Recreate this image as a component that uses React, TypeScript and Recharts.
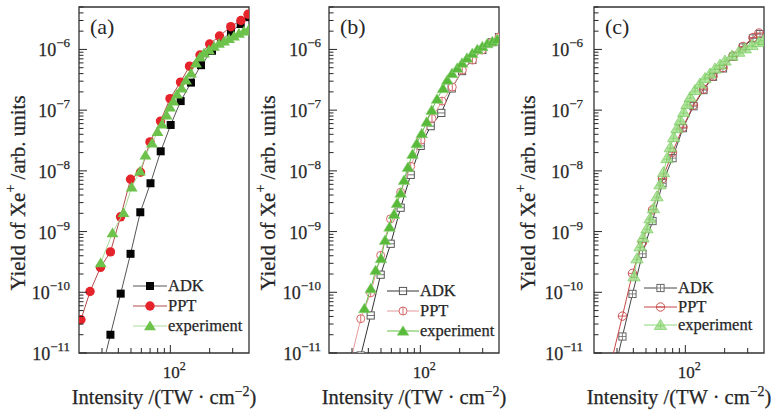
import React from 'react'
import { ScatterChart, Scatter, XAxis, YAxis, ReferenceArea, Legend, Label } from 'recharts'

const FONT = '"Liberation Serif", "Times New Roman", serif'
const INK = '#262626'
const PAD = 6

// axes
const X_DOMAIN = [20, 400]
const Y_DOMAIN = [1e-11, 5e-6]
const X_TICKS = [30, 40, 50, 60, 70, 80, 90, 100, 200, 300]
const Y_DECADES = [1e-11, 1e-10, 1e-9, 1e-8, 1e-7, 1e-6]
const Y_MINOR = [2, 3, 4, 5, 6, 7, 8, 9]
const Y_TICKS = Y_DECADES.flatMap((d) => [d, ...Y_MINOR.map((m) => m * d)]).filter((v) => v <= 5e-6)

// panel (a): intensity (TW/cm2) vs Xe+ yield
const adkA_x = [29.2, 34.8, 41.7, 49.6, 58.9, 70.5, 84.4, 100.6, 120, 143.9, 171.7, 208.4, 244, 291, 345.5, 398]
const adkA_y = [4.3e-12, 2.0e-11, 9.5e-11, 4.3e-10, 2.08e-9, 6.25e-9, 2.1e-8, 5.7e-8, 1.41e-7, 2.84e-7, 5.5e-7, 9.5e-7, 1.37e-6, 1.94e-6, 2.62e-6, 3.4e-6]
const pptA_x = [20.7, 24.3, 29.2, 34.8, 41.6, 49.6, 59.1, 69.9, 84.1, 99.4, 119.6, 140.2, 168.7, 200, 237.8, 290, 347, 393]
const pptA_y = [3.53e-11, 1.03e-10, 2.57e-10, 4.63e-10, 1.75e-9, 7.28e-9, 9.5e-9, 3.0e-8, 6.6e-8, 1.55e-7, 2.9e-7, 5.3e-7, 8.1e-7, 1.23e-6, 1.66e-6, 2.37e-6, 3.0e-6, 3.8e-6]
const expA_x = [29.3, 36.1, 43.8, 50.6, 58.6, 64.5, 72.4, 79.8, 86.3, 93.5, 99.4, 105.4, 112.5, 122.2, 131.8, 143.9, 157.2, 168.7, 181, 197.6, 215.9, 235.7, 257.5, 281, 307, 335, 366, 400]
const expA_y = [3.05e-10, 9.5e-10, 2.04e-9, 5.4e-9, 9.9e-9, 1.81e-8, 2.86e-8, 4.4e-8, 5.9e-8, 8.3e-8, 1.12e-7, 1.41e-7, 1.84e-7, 2.31e-7, 3.13e-7, 4.08e-7, 5.96e-7, 7.5e-7, 8.7e-7, 9.8e-7, 1.12e-6, 1.25e-6, 1.37e-6, 1.51e-6, 1.66e-6, 1.83e-6, 2.0e-6, 2.17e-6]

// panel (b)
const adkB_x = [35.0, 41.7, 49.7, 59.3, 70.7, 84.4, 100.6, 120, 144.7, 173.8, 208.4, 249.9, 298, 355.5, 400]
const adkB_y = [9.1e-12, 4.15e-11, 1.95e-10, 6.3e-10, 2.47e-9, 8.6e-9, 2.58e-8, 5.45e-8, 9.0e-8, 2.28e-7, 4.4e-7, 6.7e-7, 9.8e-7, 1.32e-6, 1.6e-6]
const pptB_x = [29.3, 35.0, 41.7, 49.7, 59.1, 70.7, 84.4, 101.2, 122.8, 146.5, 175.6, 209.5, 250.7, 296.5, 353.6, 400]
const pptB_y = [7.5e-12, 3.67e-11, 9.8e-11, 4.06e-10, 1.62e-9, 4.44e-9, 1.19e-8, 3.2e-8, 7.3e-8, 1.41e-7, 2.4e-7, 4.57e-7, 6.7e-7, 9.8e-7, 1.32e-6, 1.6e-6]
const expB_x = [37.3, 41.7, 45.5, 50.0, 53.7, 58.1, 62.9, 66.3, 70.7, 75.0, 80.4, 87.1, 93.8, 102.4, 111.9, 122.2, 134.2, 149.1, 160.8, 174.7, 191.8, 208.4, 227.6, 249.9, 272.9, 298, 325.5, 355.5, 388]
const expB_y = [5.4e-11, 1.15e-10, 2.3e-10, 3.6e-10, 7.2e-10, 1.19e-9, 1.93e-9, 2.92e-9, 4.3e-9, 7.0e-9, 1.15e-8, 1.88e-8, 2.82e-8, 4.13e-8, 6.4e-8, 1.0e-7, 1.52e-7, 2.28e-7, 3.13e-7, 4.03e-7, 4.93e-7, 5.96e-7, 7.2e-7, 8.6e-7, 1.0e-6, 1.12e-6, 1.25e-6, 1.35e-6, 1.47e-6]

// panel (c)
const adkC_x = [27.7, 33.0, 39.4, 47.0, 56.1, 66.9, 79.8, 95.9, 115.5, 137.7, 162.8, 194.2, 231.6, 276.2, 329.5, 372.7]
const adkC_y = [3.5e-12, 1.87e-11, 9.4e-11, 4.3e-10, 1.49e-9, 6.25e-9, 1.62e-8, 5.05e-8, 1.16e-7, 2.14e-7, 3.54e-7, 4.87e-7, 7.6e-7, 1.08e-6, 1.52e-6, 1.79e-6]
const pptC_x = [27.5, 33.0, 39.4, 47.0, 56.1, 66.9, 79.8, 95.9, 115.5, 137.7, 162.8, 194.2, 231.6, 276.2, 329.5, 366]
const pptC_y = [8.1e-12, 4.05e-11, 2.05e-10, 6.65e-10, 2.28e-9, 7.47e-9, 2.03e-8, 5.24e-8, 1.21e-7, 2.22e-7, 3.64e-7, 5.02e-7, 7.8e-7, 1.12e-6, 1.57e-6, 1.86e-6]
const expC_x = [40.5, 42.7, 45.0, 47.4, 50.9, 53.7, 57.1, 60.7, 64.0, 68.1, 72.4, 76.7, 81.4, 86.3, 91.5, 97.2, 103, 109.1, 118.6, 129.5, 141.4, 154.4, 168.7, 184.2, 201.2, 227.6, 256.2, 287.6, 323.7, 364.3, 398]
const expC_y = [1.83e-10, 3.62e-10, 5.7e-10, 8.0e-10, 1.13e-9, 1.65e-9, 2.42e-9, 3.81e-9, 6.0e-9, 9.5e-9, 1.62e-8, 2.45e-8, 3.59e-8, 5.05e-8, 6.84e-8, 9.3e-8, 1.26e-7, 1.64e-7, 2.14e-7, 2.74e-7, 3.37e-7, 4.0e-7, 4.84e-7, 5.63e-7, 6.55e-7, 7.9e-7, 9.15e-7, 1.04e-6, 1.18e-6, 1.32e-6, 1.43e-6]

const toPoints = (xs: number[], ys: number[]) => xs.map((x, i) => ({ x, y: ys[i] }))

type Marker = (cx: number, cy: number) => React.ReactElement

const tri = (cx: number, cy: number, r: number) =>
  `${cx},${cy - r} ${cx + r * 1.1},${cy + r * 0.8} ${cx - r * 1.1},${cy + r * 0.8}`

const markers: Record<string, Marker> = {
  blackSquare: (cx, cy) => <rect x={cx - 4} y={cy - 4} width={8} height={8} fill="#050505" />,
  redDot: (cx, cy) => <circle cx={cx} cy={cy} r={4.7} fill="#e5232a" />,
  greenTri: (cx, cy) => <polygon points={tri(cx, cy, 5.4)} fill="#6cc24a" />,
  openSquare: (cx, cy) => (
    <g>
      <rect x={cx - 3.6} y={cy - 3.6} width={7.2} height={7.2} fill="#fff" stroke="#555" strokeWidth={1} />
      <line x1={cx - 3.6} x2={cx + 3.6} y1={cy} y2={cy} stroke="#555" strokeWidth={0.8} />
    </g>
  ),
  phiCircle: (cx, cy) => (
    <g>
      <circle cx={cx} cy={cy} r={4} fill="#fff" stroke="#d8686a" strokeWidth={1} />
      <line x1={cx} x2={cx} y1={cy - 4} y2={cy + 4} stroke="#d8686a" strokeWidth={1} />
    </g>
  ),
  greenTriB: (cx, cy) => <polygon points={tri(cx, cy, 5.3)} fill="#58b93a" stroke="#8fd27a" strokeWidth={0.6} />,
  plusSquare: (cx, cy) => (
    <g>
      <rect x={cx - 3.6} y={cy - 3.6} width={7.2} height={7.2} fill="#fff" stroke="#666" strokeWidth={1} />
      <line x1={cx - 3.6} x2={cx + 3.6} y1={cy} y2={cy} stroke="#666" strokeWidth={0.8} />
      <line x1={cx} x2={cx} y1={cy - 3.6} y2={cy + 3.6} stroke="#666" strokeWidth={0.8} />
    </g>
  ),
  thetaCircle: (cx, cy) => (
    <g>
      <circle cx={cx} cy={cy} r={4.2} fill="none" stroke="#c9504f" strokeWidth={1} />
      <line x1={cx - 4.2} x2={cx + 4.2} y1={cy} y2={cy} stroke="#c9504f" strokeWidth={0.9} />
    </g>
  ),
  lightTri: (cx, cy) => (
    <g opacity={0.85}>
      <polygon points={tri(cx, cy, 5.6)} fill="#a9e294" stroke="#6fc855" strokeWidth={0.8} />
      <line x1={cx - 3.5} x2={cx + 3.5} y1={cy + 1} y2={cy + 1} stroke="#6fc855" strokeWidth={0.7} />
      <line x1={cx} x2={cx} y1={cy - 3.5} y2={cy + 4.4} stroke="#6fc855" strokeWidth={0.7} />
    </g>
  ),
}

interface Series {
  name: string
  xs: number[]
  ys: number[]
  line: string
  lineWidth: number
  marker: Marker
}

const seriesA: Series[] = [
  { name: 'ADK', xs: adkA_x, ys: adkA_y, line: '#555', lineWidth: 1, marker: markers.blackSquare },
  { name: 'PPT', xs: pptA_x, ys: pptA_y, line: '#b24b4b', lineWidth: 1, marker: markers.redDot },
  { name: 'experiment', xs: expA_x, ys: expA_y, line: '#a9dc97', lineWidth: 1, marker: markers.greenTri },
]
const seriesB: Series[] = [
  { name: 'ADK', xs: adkB_x, ys: adkB_y, line: '#333', lineWidth: 1, marker: markers.openSquare },
  { name: 'PPT', xs: pptB_x, ys: pptB_y, line: '#e59a9a', lineWidth: 1, marker: markers.phiCircle },
  { name: 'experiment', xs: expB_x, ys: expB_y, line: '#62bf46', lineWidth: 1, marker: markers.greenTriB },
]
const seriesC: Series[] = [
  { name: 'ADK', xs: adkC_x, ys: adkC_y, line: '#444', lineWidth: 1, marker: markers.plusSquare },
  { name: 'PPT', xs: pptC_x, ys: pptC_y, line: '#c84646', lineWidth: 1, marker: markers.thetaCircle },
  { name: 'experiment', xs: expC_x, ys: expC_y, line: '#8fd87a', lineWidth: 1, marker: markers.lightTri },
]

const textInk = { fill: INK, stroke: INK, strokeWidth: 0.25 }

function makeYTick(gap: number) {
  return (p: any) => {
    const v = p.payload.value
    const major = Y_DECADES.includes(v)
    const e = Math.round(Math.log10(v))
    return (
      <g>
        <line x1={p.x} x2={p.x + (major ? 8 : 4.5)} y1={p.y} y2={p.y} stroke={INK} strokeWidth={1} />
        {major && (
          <text x={p.x - gap} y={p.y + 7} textAnchor="end" fontFamily={FONT} fontSize={18} {...textInk}>
            10
            <tspan dy={-9} fontSize={13}>{'\u2212' + Math.abs(e)}</tspan>
          </text>
        )}
      </g>
    )
  }
}

function XTick(p: any) {
  const v = p.payload.value
  const major = v === 100
  return (
    <g>
      <line x1={p.x} x2={p.x} y1={p.y} y2={p.y - (major ? 8 : 5)} stroke={INK} strokeWidth={1} />
      {major && (
        <text x={p.x + 4} y={p.y + 25} textAnchor="middle" fontFamily={FONT} fontSize={17} {...textInk}>
          10
          <tspan dy={-8} fontSize={12}>2</tspan>
        </text>
      )}
    </g>
  )
}

function XLabel(props: any) {
  const vb = props.viewBox
  return (
    <text x={vb.x + vb.width / 2} y={vb.y + 51} textAnchor="middle" fontFamily={FONT} fontSize={20.5} {...textInk}>
      Intensity /(TW · cm
      <tspan dy={-8} fontSize={14}>{'\u22122'}</tspan>
      <tspan dy={8}>)</tspan>
    </text>
  )
}

function makeYLabel(cx: number) {
  return (props: any) => {
    const vb = props.viewBox
    const cy = vb.y + 186
    return (
      <text
        x={cx}
        y={cy}
        transform={`rotate(-90, ${cx}, ${cy})`}
        textAnchor="middle"
        dominantBaseline="central"
        fontFamily={FONT}
        fontSize={21}
        {...textInk}
      >
        Yield of Xe
        <tspan dy={-8} fontSize={14}>+</tspan>
        <tspan dy={8}> /arb. units</tspan>
      </text>
    )
  }
}

interface LegendPos {
  left: number
  top: number
  lineW: number
  rowH: number
}

function LegendBox({ series, pos }: { series: Series[]; pos: LegendPos }) {
  return (
    <div style={{ fontFamily: FONT, fontSize: 16.5, color: INK, lineHeight: 1, WebkitTextStroke: '0.25px #262626' }}>
      {series.map((s) => (
        <div key={s.name} style={{ display: 'flex', alignItems: 'center', height: pos.rowH }}>
          <svg width={pos.lineW} height={16} style={{ overflow: 'visible' }}>
            <line x1={0} x2={pos.lineW} y1={8} y2={8} stroke={s.line} strokeWidth={s.lineWidth} />
            {s.marker(pos.lineW / 2, 8)}
          </svg>
          <span style={{ marginLeft: 1 }}>{s.name}</span>
        </div>
      ))}
    </div>
  )
}

interface PanelProps {
  plotLeft: number
  letter: string
  series: Series[]
  legend: LegendPos
  yLabelX: number
  tickGap: number
}

// each panel: plot box is 170 px wide, from y=7 to y=353
function Panel({ plotLeft, letter, series, legend, yLabelX, tickGap }: PanelProps) {
  const chartLeft = plotLeft - 79 - PAD
  return (
    <div style={{ position: 'absolute', left: chartLeft, top: 0 }}>
      <ScatterChart width={266} height={411} margin={{ top: 7, right: 11, bottom: 0, left: 0 }}>
        <XAxis
          type="number"
          dataKey="x"
          scale="log"
          domain={X_DOMAIN}
          allowDataOverflow
          ticks={X_TICKS}
          interval={0}
          tickSize={0}
          tickMargin={0}
          axisLine={false}
          tickLine={false}
          height={58}
          tick={XTick}
        >
          <Label content={XLabel} />
        </XAxis>
        <YAxis
          type="number"
          dataKey="y"
          scale="log"
          domain={Y_DOMAIN}
          allowDataOverflow
          ticks={Y_TICKS}
          interval={0}
          tickSize={0}
          tickMargin={0}
          axisLine={false}
          tickLine={false}
          width={79 + PAD}
          tick={makeYTick(tickGap)}
        >
          <Label content={makeYLabel(yLabelX + PAD)} />
        </YAxis>
        <ReferenceArea
          x1={X_DOMAIN[0]}
          x2={X_DOMAIN[1]}
          y1={Y_DOMAIN[0]}
          y2={Y_DOMAIN[1]}
          fill="none"
          stroke="#333"
          strokeWidth={1.3}
          label={{ value: letter, position: 'insideTopLeft', offset: 11, fontFamily: FONT, fontSize: 22, fill: INK }}
        />
        {series.map((s) => (
          <Scatter
            key={s.name}
            name={s.name}
            data={toPoints(s.xs, s.ys)}
            line={{ stroke: s.line, strokeWidth: s.lineWidth }}
            lineType="joint"
            shape={(p: any) => s.marker(p.cx, p.cy)}
            isAnimationActive={false}
          />
        ))}
        <Legend
          layout="vertical"
          align="center"
          verticalAlign="middle"
          wrapperStyle={{ left: legend.left + PAD, top: legend.top, width: 'auto', height: 'auto' }}
          content={() => <LegendBox series={series} pos={legend} />}
        />
      </ScatterChart>
    </div>
  )
}

export default function App() {
  return (
    <div style={{ position: 'absolute', left: 0, top: 0, width: 779, height: 411, background: '#fff', overflow: 'hidden' }}>
      <Panel plotLeft={79} letter="(a)" series={seriesA} legend={{ left: 133, top: 276, lineW: 34, rowH: 20 }} yLabelX={18} tickGap={9} />
      <Panel plotLeft={329} letter="(b)" series={seriesB} legend={{ left: 137, top: 281, lineW: 32, rowH: 20 }} yLabelX={18} tickGap={8} />
      <Panel plotLeft={594} letter="(c)" series={seriesC} legend={{ left: 129, top: 279, lineW: 33, rowH: 18.5 }} yLabelX={13} tickGap={11} />
    </div>
  )
}
